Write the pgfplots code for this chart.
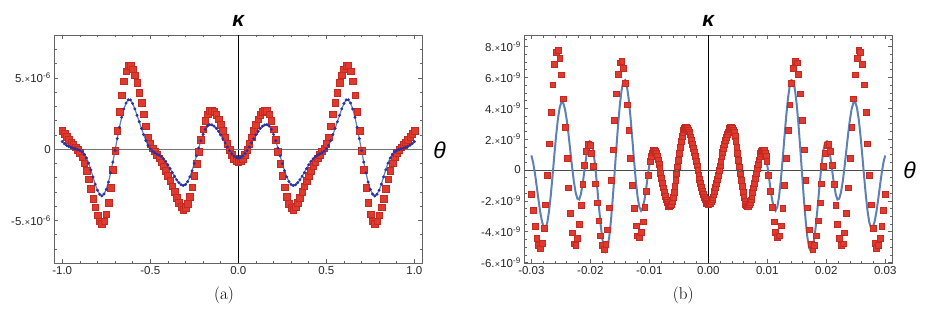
\documentclass[border=0pt]{standalone}
\usepackage{fontspec}
\usepackage{pgfplots}
\usepackage{pgfplotstable}
\pgfplotsset{compat=1.18}
\newfontfamily\tickfont{Liberation Sans}
\definecolor{mred}{RGB}{222,58,46}
\definecolor{mredd}{RGB}{196,42,34}
\definecolor{mblue}{RGB}{94,129,181}
\definecolor{dblue}{RGB}{38,48,168}
\definecolor{framec}{RGB}{100,100,100}
\newcommand{\sci}[2]{#1.\kern0.2pt{\fontsize{9}{9}\selectfont ×}\kern0.2pt10\textsuperscript{#2}}

\pgfplotstableread{
x r b
-1 1.3 0.53
-0.9875 1.07 0.38
-0.975 0.86 0.27
-0.9625 0.66 0.18
-0.95 0.48 0.12
-0.9375 0.32 0.07
-0.925 0.15 0.02
-0.9125 -0.02 -0.03
-0.9 -0.25 -0.09
-0.8875 -0.55 -0.19
-0.875 -0.98 -0.36
-0.8625 -1.52 -0.62
-0.85 -2.1 -0.98
-0.8375 -2.77 -1.45
-0.825 -3.45 -1.95
-0.8125 -4.07 -2.45
-0.8 -4.63 -2.88
-0.7875 -5.05 -3.16
-0.775 -5.22 -3.28
-0.7625 -5.05 -3.144
-0.75 -4.55 -2.818
-0.7375 -3.74 -2.31
-0.725 -2.68 -1.661
-0.7125 -1.45 -0.906
-0.7 -0.09 -0.09
-0.6875 1.29 0.739
-0.675 2.61 1.527
-0.6625 3.79 2.234
-0.65 4.76 2.813
-0.6375 5.46 3.229
-0.625 5.85 3.458
-0.6125 5.85 3.45
-0.6 5.6 3.2
-0.5875 5.2 2.82
-0.575 4.65 2.37
-0.5625 3.98 1.92
-0.55 3.25 1.45
-0.5375 2.45 1.02
-0.525 1.6 0.6
-0.5125 0.85 0.26
-0.5 0.38 0.02
-0.4875 0.08 -0.14
-0.475 -0.15 -0.26
-0.4625 -0.38 -0.34
-0.45 -0.62 -0.42
-0.4375 -0.9 -0.52
-0.425 -1.2 -0.67
-0.4125 -1.52 -0.86
-0.4 -1.85 -1.1
-0.3875 -2.2 -1.36
-0.375 -2.58 -1.64
-0.3625 -2.98 -1.9
-0.35 -3.38 -2.15
-0.3375 -3.75 -2.35
-0.325 -4.05 -2.5
-0.3125 -4.22 -2.55
-0.3 -4.121 -2.479
-0.2875 -3.808 -2.271
-0.275 -3.31 -1.942
-0.2625 -2.651 -1.515
-0.25 -1.875 -1.012
-0.2375 -1.028 -0.47
-0.225 -0.163 0.075
-0.2125 0.666 0.589
-0.2 1.407 1.036
-0.1875 2.012 1.387
-0.175 2.446 1.619
-0.1625 2.681 1.717
-0.15 2.711 1.697
-0.1375 2.609 1.608
-0.125 2.4 1.454
-0.1125 2.093 1.247
-0.1 1.716 0.998
-0.0875 1.286 0.722
-0.075 0.834 0.435
-0.0625 0.388 0.156
-0.05 -0.025 -0.1
-0.0375 -0.376 -0.317
-0.025 -0.645 -0.482
-0.0125 -0.81 -0.585
0 -0.87 -0.62
0.0125 -0.81 -0.585
0.025 -0.645 -0.482
0.0375 -0.376 -0.317
0.05 -0.025 -0.1
0.0625 0.388 0.156
0.075 0.834 0.435
0.0875 1.286 0.722
0.1 1.716 0.998
0.1125 2.093 1.247
0.125 2.4 1.454
0.1375 2.609 1.608
0.15 2.711 1.697
0.1625 2.681 1.717
0.175 2.446 1.619
0.1875 2.012 1.387
0.2 1.407 1.036
0.2125 0.666 0.589
0.225 -0.163 0.075
0.2375 -1.028 -0.47
0.25 -1.875 -1.012
0.2625 -2.651 -1.515
0.275 -3.31 -1.942
0.2875 -3.808 -2.271
0.3 -4.121 -2.479
0.3125 -4.22 -2.55
0.325 -4.05 -2.5
0.3375 -3.75 -2.35
0.35 -3.38 -2.15
0.3625 -2.98 -1.9
0.375 -2.58 -1.64
0.3875 -2.2 -1.36
0.4 -1.85 -1.1
0.4125 -1.52 -0.86
0.425 -1.2 -0.67
0.4375 -0.9 -0.52
0.45 -0.62 -0.42
0.4625 -0.38 -0.34
0.475 -0.15 -0.26
0.4875 0.08 -0.14
0.5 0.38 0.02
0.5125 0.85 0.26
0.525 1.6 0.6
0.5375 2.45 1.02
0.55 3.25 1.45
0.5625 3.98 1.92
0.575 4.65 2.37
0.5875 5.2 2.82
0.6 5.6 3.2
0.6125 5.85 3.45
0.625 5.85 3.458
0.6375 5.46 3.229
0.65 4.76 2.813
0.6625 3.79 2.234
0.675 2.61 1.527
0.6875 1.29 0.739
0.7 -0.09 -0.09
0.7125 -1.45 -0.906
0.725 -2.68 -1.661
0.7375 -3.74 -2.31
0.75 -4.55 -2.818
0.7625 -5.05 -3.144
0.775 -5.22 -3.28
0.7875 -5.05 -3.16
0.8 -4.63 -2.88
0.8125 -4.07 -2.45
0.825 -3.45 -1.95
0.8375 -2.77 -1.45
0.85 -2.1 -0.98
0.8625 -1.52 -0.62
0.875 -0.98 -0.36
0.8875 -0.55 -0.19
0.9 -0.25 -0.09
0.9125 -0.02 -0.03
0.925 0.15 0.02
0.9375 0.32 0.07
0.95 0.48 0.12
0.9625 0.66 0.18
0.975 0.86 0.27
0.9875 1.07 0.38
1 1.3 0.53
}\tabA

\pgfplotstableread{
x r b
-0.03 -1.58 0.941
-0.0297 -2.6 0.486
-0.0294 -3.62 -0.206
-0.0291 -4.4 -1.045
-0.0288 -4.85 -1.922
-0.0285 -5.07 -2.724
-0.0282 -4.733 -3.347
-0.0279 -3.757 -3.708
-0.0276 -2.248 -3.756
-0.0273 -0.361 -3.403
-0.027 1.711 -2.657
-0.0267 3.745 -1.603
-0.0264 5.527 -0.339
-0.0261 6.876 0.992
-0.0258 7.648 2.249
-0.0255 7.766 3.307
-0.0252 7.249 4.052
-0.0249 6.174 4.406
-0.0246 4.63 4.351
-0.0243 2.769 3.945
-0.024 0.784 3.238
-0.0237 -1.141 2.304
-0.0234 -2.811 1.247
-0.0231 -4.065 0.198
-0.0228 -4.78 -0.737
-0.0225 -4.888 -1.45
-0.0222 -4.433 -1.859
-0.0219 -3.51 -1.916
-0.0216 -2.268 -1.571
-0.0213 -0.917 -0.893
-0.021 0.319 -0.024
-0.0207 1.239 0.841
-0.0204 1.69 1.517
-0.0201 1.619 1.857
-0.0198 1.114 1.775
-0.0195 0.24 1.245
-0.0192 -0.883 0.328
-0.0189 -2.113 -0.849
-0.0186 -3.29 -2.138
-0.0183 -4.26 -3.372
-0.018 -4.898 -4.389
-0.0177 -5.12 -5.057
-0.0174 -4.8 -5.29
-0.0171 -3.874 -5.051
-0.0168 -2.44 -4.356
-0.0165 -0.649 -3.256
-0.0162 1.319 -1.844
-0.0159 3.25 -0.268
-0.0156 4.942 1.361
-0.0153 6.222 2.902
-0.015 6.956 4.216
-0.0147 7.069 5.191
-0.0144 6.603 5.742
-0.0141 5.633 5.824
-0.0138 4.239 5.434
-0.0135 2.56 4.609
-0.0132 0.767 3.454
-0.0129 -0.969 2.084
-0.0126 -2.477 0.662
-0.0123 -3.609 -0.652
-0.012 -4.254 -1.713
-0.0117 -4.357 -2.401
-0.0114 -4.028 -2.64
-0.0111 -3.347 -2.444
-0.0108 -2.411 -1.894
-0.0105 -1.351 -1.101
-0.0102 -0.316 -0.219
-0.0099 0.548 0.574
-0.00975 0.876 0.888
-0.0096 1.12 1.124
-0.00945 1.27 1.27
-0.0093 1.32 1.32
-0.00915 1.292 1.288
-0.009 1.209 1.194
-0.00885 1.074 1.042
-0.0087 0.891 0.833
-0.00855 0.665 0.58
-0.0084 0.403 0.284
-0.00825 0.113 -0.038
-0.0081 -0.196 -0.381
-0.00795 -0.515 -0.729
-0.0078 -0.834 -1.077
-0.00765 -1.143 -1.408
-0.0075 -1.433 -1.713
-0.00735 -1.695 -1.982
-0.0072 -1.921 -2.206
-0.00705 -2.104 -2.379
-0.0069 -2.239 -2.493
-0.00675 -2.322 -2.546
-0.0066 -2.35 -2.534
-0.00645 -2.311 -2.447
-0.0063 -2.195 -2.289
-0.00615 -2.007 -2.061
-0.006 -1.751 -1.772
-0.00585 -1.436 -1.434
-0.0057 -1.07 -1.049
-0.00555 -0.666 -0.629
-0.0054 -0.234 -0.19
-0.00525 0.21 0.258
-0.0051 0.654 0.701
-0.00495 1.086 1.127
-0.0048 1.49 1.525
-0.00465 1.856 1.882
-0.0045 2.171 2.189
-0.00435 2.427 2.438
-0.0042 2.615 2.621
-0.00405 2.731 2.732
-0.0039 2.77 2.77
-0.00375 2.752 2.752
-0.0036 2.698 2.698
-0.00345 2.608 2.608
-0.0033 2.485 2.485
-0.00315 2.332 2.332
-0.003 2.145 2.145
-0.00285 1.93 1.93
-0.0027 1.696 1.696
-0.00255 1.438 1.438
-0.0024 1.166 1.166
-0.00225 0.88 0.88
-0.0021 0.585 0.585
-0.00195 0.285 0.285
-0.0018 -0.015 -0.015
-0.00165 -0.31 -0.31
-0.0015 -0.596 -0.596
-0.00135 -0.87 -0.87
-0.0012 -1.127 -1.127
-0.00105 -1.363 -1.363
-0.0009 -1.575 -1.575
-0.00075 -1.76 -1.76
-0.0006 -1.915 -1.915
-0.00045 -2.039 -2.039
-0.0003 -2.128 -2.128
-0.00015 -2.182 -2.182
0 -2.2 -2.2
0.00015 -2.182 -2.182
0.0003 -2.128 -2.128
0.00045 -2.039 -2.039
0.0006 -1.915 -1.915
0.00075 -1.76 -1.76
0.0009 -1.575 -1.575
0.00105 -1.363 -1.363
0.0012 -1.127 -1.127
0.00135 -0.87 -0.87
0.0015 -0.596 -0.596
0.00165 -0.31 -0.31
0.0018 -0.015 -0.015
0.00195 0.285 0.285
0.0021 0.585 0.585
0.00225 0.88 0.88
0.0024 1.166 1.166
0.00255 1.438 1.438
0.0027 1.696 1.696
0.00285 1.93 1.93
0.003 2.145 2.145
0.00315 2.332 2.332
0.0033 2.485 2.485
0.00345 2.608 2.608
0.0036 2.698 2.698
0.00375 2.752 2.752
0.0039 2.77 2.77
0.00405 2.731 2.732
0.0042 2.615 2.621
0.00435 2.427 2.438
0.0045 2.171 2.189
0.00465 1.856 1.882
0.0048 1.49 1.525
0.00495 1.086 1.127
0.0051 0.654 0.701
0.00525 0.21 0.258
0.0054 -0.234 -0.19
0.00555 -0.666 -0.629
0.0057 -1.07 -1.049
0.00585 -1.436 -1.434
0.006 -1.751 -1.772
0.00615 -2.007 -2.061
0.0063 -2.195 -2.289
0.00645 -2.311 -2.447
0.0066 -2.35 -2.534
0.00675 -2.322 -2.546
0.0069 -2.239 -2.493
0.00705 -2.104 -2.379
0.0072 -1.921 -2.206
0.00735 -1.695 -1.982
0.0075 -1.433 -1.713
0.00765 -1.143 -1.408
0.0078 -0.834 -1.077
0.00795 -0.515 -0.729
0.0081 -0.196 -0.381
0.00825 0.113 -0.038
0.0084 0.403 0.284
0.00855 0.665 0.58
0.0087 0.891 0.833
0.00885 1.074 1.042
0.009 1.209 1.194
0.00915 1.292 1.288
0.0093 1.32 1.32
0.00945 1.27 1.27
0.0096 1.12 1.124
0.00975 0.876 0.888
0.0099 0.548 0.574
0.0102 -0.316 -0.219
0.0105 -1.351 -1.101
0.0108 -2.411 -1.894
0.0111 -3.347 -2.444
0.0114 -4.028 -2.64
0.0117 -4.357 -2.401
0.012 -4.254 -1.713
0.0123 -3.609 -0.652
0.0126 -2.477 0.662
0.0129 -0.969 2.084
0.0132 0.767 3.454
0.0135 2.56 4.609
0.0138 4.239 5.434
0.0141 5.633 5.824
0.0144 6.603 5.742
0.0147 7.069 5.191
0.015 6.956 4.216
0.0153 6.222 2.902
0.0156 4.942 1.361
0.0159 3.25 -0.268
0.0162 1.319 -1.844
0.0165 -0.649 -3.256
0.0168 -2.44 -4.356
0.0171 -3.874 -5.051
0.0174 -4.8 -5.29
0.0177 -5.12 -5.057
0.018 -4.898 -4.389
0.0183 -4.26 -3.372
0.0186 -3.29 -2.138
0.0189 -2.113 -0.849
0.0192 -0.883 0.328
0.0195 0.24 1.245
0.0198 1.114 1.775
0.0201 1.619 1.857
0.0204 1.69 1.517
0.0207 1.239 0.841
0.021 0.319 -0.024
0.0213 -0.917 -0.893
0.0216 -2.268 -1.571
0.0219 -3.51 -1.916
0.0222 -4.433 -1.859
0.0225 -4.888 -1.45
0.0228 -4.78 -0.737
0.0231 -4.065 0.198
0.0234 -2.811 1.247
0.0237 -1.141 2.304
0.024 0.784 3.238
0.0243 2.769 3.945
0.0246 4.63 4.351
0.0249 6.174 4.406
0.0252 7.249 4.052
0.0255 7.766 3.307
0.0258 7.648 2.249
0.0261 6.876 0.992
0.0264 5.527 -0.339
0.0267 3.745 -1.603
0.027 1.711 -2.657
0.0273 -0.361 -3.403
0.0276 -2.248 -3.756
0.0279 -3.757 -3.708
0.0282 -4.733 -3.347
0.0285 -5.07 -2.724
0.0288 -4.85 -1.922
0.0291 -4.4 -1.045
0.0294 -3.62 -0.206
0.0297 -2.6 0.486
0.03 -1.58 0.941
}\tabB

\pgfplotsset{
  mstyle/.style={
    scale only axis, width=368pt, height=228.3pt, anchor=south west,
    axis line style={framec, line width=0.7pt},
    tick style={framec, line width=0.6pt},
    major tick length=4pt, minor tick length=2.5pt,
    tick pos=both, tick align=inside,
    tick label style={font=\tickfont\fontsize{11.5}{11.5}\selectfont, text=black!85},
    scaled x ticks=false, scaled y ticks=false,
  }
}

\begin{document}
\begin{tikzpicture}
\path[use as bounding box] (0pt,0pt) rectangle (930pt,313pt);

% ---------- panel (a) ----------
\begin{axis}[mstyle, at={(54.3pt,49.7pt)},
  xmin=-1.045, xmax=1.045, ymin=-8, ymax=8,
  xtick={-1,-0.5,0,0.5,1}, xticklabels={-1.0,-0.5,0.0,0.5,1.0},
  minor xtick={-1,-0.9,-0.8,-0.7,-0.6,-0.4,-0.3,-0.2,-0.1,0.1,0.2,0.3,0.4,0.6,0.7,0.8,0.9,1},
  ytick={-5,0,5}, yticklabels={\sci{-5}{-6},0,\sci{5}{-6}},
  minor ytick={-8,-7,-6,-4,-3,-2,-1,1,2,3,4,6,7,8},
]
\draw[black, line width=0.6pt] (axis cs:0,-8) -- (axis cs:0,8);
\draw[black!55, line width=0.9pt] (axis cs:-1.045,0) -- (axis cs:1.045,0);
\addplot[only marks, mark=square*, mark size=3.3pt,
  mark options={fill=mred, draw=mredd, line width=0.3pt}] table[x=x,y=r]{\tabA};
\addplot[mblue, line width=1.2pt, no marks] table[x=x,y=b]{\tabA};
\addplot[only marks, mark=*, mark size=1.3pt,
  mark options={fill=dblue, draw=dblue}] table[x=x,y=b]{\tabA};
\end{axis}

% ---------- panel (b) ----------
\begin{axis}[mstyle, at={(524.3pt,49.7pt)},
  xmin=-0.0312, xmax=0.0312, ymin=-6.05, ymax=8.75,
  xtick={-0.03,-0.02,-0.01,0,0.01,0.02,0.03},
  xticklabels={-0.03,-0.02,-0.01,0.00,0.01,0.02,0.03},
  minor xtick={-0.03,-0.028,-0.026,-0.024,-0.022,-0.02,-0.018,-0.016,-0.014,-0.012,-0.01,-0.008,-0.006,-0.004,-0.002,0,0.002,0.004,0.006,0.008,0.01,0.012,0.014,0.016,0.018,0.02,0.022,0.024,0.026,0.028,0.03},
  ytick={-6,-4,-2,0,2,4,6,8},
  yticklabels={\sci{-6}{-9},\sci{-4}{-9},\sci{-2}{-9},0,\sci{2}{-9},\sci{4}{-9},\sci{6}{-9},\sci{8}{-9}},
  minor ytick={-5.5,-5,-4.5,-3.5,-3,-2.5,-1.5,-1,-0.5,0.5,1,1.5,2.5,3,3.5,4.5,5,5.5,6.5,7,7.5,8.5},
]
\draw[black, line width=0.6pt] (axis cs:0,-6.05) -- (axis cs:0,8.75);
\draw[black!70, line width=0.9pt] (axis cs:-0.0312,0) -- (axis cs:0.0312,0);
\addplot[mblue, line width=2pt, no marks] table[x=x,y=b]{\tabB};
\addplot[only marks, mark=square*, mark size=2.9pt,
  mark options={fill=mred, draw=mredd, line width=0.3pt}] table[x=x,y=r]{\tabB};
\end{axis}

% ---------- labels ----------
\node[font=\tickfont\bfseries\itshape\fontsize{21}{21}\selectfont] at (238.3pt,292.5pt) {κ};
\node[font=\tickfont\itshape\fontsize{23}{23}\selectfont] at (439.5pt,163pt) {θ};
\node[font=\fontsize{17}{17}\selectfont] at (224pt,18pt) {(a)};
\node[font=\tickfont\bfseries\itshape\fontsize{21}{21}\selectfont] at (708.3pt,292.5pt) {κ};
\node[font=\tickfont\itshape\fontsize{23}{23}\selectfont] at (909.5pt,143pt) {θ};
\node[font=\fontsize{17}{17}\selectfont] at (683.3pt,18pt) {(b)};
\end{tikzpicture}
\end{document}
